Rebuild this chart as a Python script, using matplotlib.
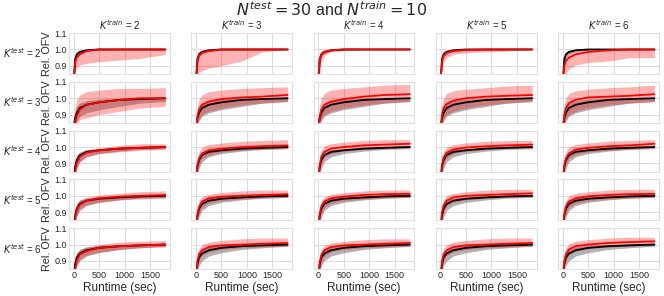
import matplotlib.pyplot as plt

# runtime grid (sec)
runtime = [0, 30, 60, 120, 250, 500, 900, 1300, 1800]

k_test = [2, 3, 4, 5, 6]
k_train = [2, 3, 4, 5, 6]

# baseline (black): one curve per K_test row
black_mean = [
    [0.80, 0.94, 0.970, 0.985, 0.995, 1.000, 1.000, 1.000, 1.000],
    [0.82, 0.88, 0.910, 0.940, 0.960, 0.975, 0.990, 0.995, 1.000],
    [0.80, 0.88, 0.920, 0.950, 0.970, 0.980, 0.990, 0.995, 1.000],
    [0.80, 0.88, 0.920, 0.950, 0.970, 0.982, 0.990, 0.996, 1.000],
    [0.80, 0.88, 0.920, 0.945, 0.965, 0.980, 0.990, 0.995, 1.000],
]
black_lo = [
    [0.78, 0.91, 0.955, 0.975, 0.990, 0.997, 1.000, 1.000, 1.000],
    [0.80, 0.84, 0.860, 0.890, 0.910, 0.930, 0.950, 0.970, 0.980],
    [0.78, 0.83, 0.870, 0.910, 0.940, 0.960, 0.975, 0.985, 0.990],
    [0.78, 0.83, 0.870, 0.910, 0.940, 0.960, 0.975, 0.985, 0.990],
    [0.78, 0.83, 0.870, 0.900, 0.930, 0.950, 0.970, 0.980, 0.990],
]
black_hi = [
    [0.83, 0.96, 0.985, 0.995, 1.000, 1.000, 1.000, 1.000, 1.000],
    [0.84, 0.92, 0.950, 0.970, 0.985, 0.995, 1.000, 1.000, 1.000],
    [0.83, 0.91, 0.950, 0.970, 0.985, 0.990, 1.000, 1.005, 1.010],
    [0.83, 0.92, 0.950, 0.975, 0.985, 0.995, 1.000, 1.005, 1.010],
    [0.83, 0.92, 0.950, 0.970, 0.985, 0.995, 1.000, 1.005, 1.010],
]

# learned (red): one curve per panel, rows = K_test, cols = K_train
red_mean = [
    [
        [0.80, 0.92, 0.950, 0.970, 0.990, 1.000, 1.000, 1.000, 1.000],
        [0.80, 0.93, 0.960, 0.980, 0.990, 1.000, 1.000, 1.000, 1.000],
        [0.80, 0.94, 0.970, 0.985, 0.995, 1.000, 1.000, 1.000, 1.000],
        [0.80, 0.93, 0.960, 0.980, 0.990, 0.997, 1.000, 1.000, 1.000],
        [0.80, 0.90, 0.930, 0.950, 0.970, 0.985, 0.995, 1.000, 1.000],
    ],
    [
        [0.80, 0.85, 0.890, 0.930, 0.960, 0.975, 0.990, 1.000, 1.000],
        [0.80, 0.89, 0.930, 0.960, 0.980, 0.995, 1.005, 1.010, 1.020],
        [0.80, 0.89, 0.930, 0.960, 0.980, 0.995, 1.010, 1.020, 1.025],
        [0.80, 0.90, 0.940, 0.965, 0.985, 1.000, 1.010, 1.015, 1.020],
        [0.80, 0.90, 0.940, 0.970, 0.990, 1.005, 1.010, 1.015, 1.025],
    ],
    [
        [0.78, 0.85, 0.900, 0.940, 0.965, 0.980, 0.990, 0.995, 1.000],
        [0.80, 0.89, 0.930, 0.960, 0.980, 0.990, 1.000, 1.005, 1.010],
        [0.80, 0.89, 0.940, 0.970, 0.990, 1.000, 1.010, 1.015, 1.020],
        [0.80, 0.89, 0.935, 0.965, 0.985, 0.997, 1.005, 1.010, 1.015],
        [0.80, 0.89, 0.930, 0.960, 0.985, 0.995, 1.005, 1.010, 1.020],
    ],
    [
        [0.80, 0.87, 0.910, 0.945, 0.970, 0.985, 0.995, 1.000, 1.005],
        [0.80, 0.89, 0.930, 0.965, 0.985, 0.995, 1.000, 1.005, 1.010],
        [0.80, 0.89, 0.935, 0.965, 0.985, 0.995, 1.005, 1.010, 1.012],
        [0.80, 0.90, 0.940, 0.970, 0.990, 1.000, 1.005, 1.010, 1.015],
        [0.80, 0.89, 0.935, 0.965, 0.985, 0.997, 1.005, 1.010, 1.012],
    ],
    [
        [0.78, 0.85, 0.900, 0.940, 0.960, 0.980, 0.990, 0.995, 1.000],
        [0.80, 0.90, 0.940, 0.965, 0.985, 0.995, 1.000, 1.005, 1.010],
        [0.80, 0.89, 0.935, 0.965, 0.985, 0.995, 1.000, 1.005, 1.010],
        [0.80, 0.90, 0.940, 0.965, 0.985, 0.995, 1.000, 1.005, 1.010],
        [0.80, 0.90, 0.940, 0.970, 0.990, 1.000, 1.010, 1.015, 1.020],
    ],
]
red_lo = [
    [
        [0.78, 0.87, 0.890, 0.905, 0.915, 0.925, 0.935, 0.945, 0.970],
        [0.78, 0.84, 0.860, 0.870, 0.885, 0.900, 0.930, 0.985, 1.000],
        [0.78, 0.84, 0.920, 0.965, 0.985, 0.995, 1.000, 1.000, 1.000],
        [0.78, 0.89, 0.925, 0.950, 0.970, 0.980, 0.985, 0.990, 1.000],
        [0.78, 0.82, 0.850, 0.880, 0.905, 0.920, 0.930, 0.950, 0.950],
    ],
    [
        [0.78, 0.80, 0.840, 0.870, 0.880, 0.900, 0.920, 0.940, 0.950],
        [0.78, 0.84, 0.870, 0.900, 0.920, 0.940, 0.960, 0.970, 0.980],
        [0.78, 0.84, 0.870, 0.900, 0.920, 0.940, 0.960, 0.970, 0.980],
        [0.78, 0.84, 0.870, 0.900, 0.920, 0.940, 0.960, 0.970, 0.980],
        [0.78, 0.84, 0.870, 0.900, 0.920, 0.940, 0.960, 0.970, 0.980],
    ],
    [
        [0.76, 0.82, 0.870, 0.910, 0.940, 0.960, 0.970, 0.980, 0.985],
        [0.78, 0.85, 0.890, 0.930, 0.950, 0.970, 0.980, 0.985, 0.990],
        [0.78, 0.85, 0.900, 0.940, 0.960, 0.975, 0.985, 0.990, 0.995],
        [0.78, 0.85, 0.900, 0.935, 0.960, 0.975, 0.985, 0.990, 0.990],
        [0.78, 0.85, 0.890, 0.930, 0.955, 0.970, 0.980, 0.985, 0.995],
    ],
    [
        [0.76, 0.83, 0.880, 0.920, 0.945, 0.960, 0.975, 0.980, 0.985],
        [0.78, 0.85, 0.890, 0.930, 0.955, 0.970, 0.980, 0.985, 0.990],
        [0.78, 0.85, 0.890, 0.930, 0.955, 0.970, 0.980, 0.985, 0.990],
        [0.78, 0.86, 0.900, 0.940, 0.960, 0.975, 0.985, 0.990, 0.995],
        [0.78, 0.85, 0.890, 0.930, 0.955, 0.970, 0.980, 0.985, 0.990],
    ],
    [
        [0.76, 0.82, 0.870, 0.910, 0.935, 0.955, 0.970, 0.980, 0.985],
        [0.78, 0.86, 0.900, 0.935, 0.955, 0.970, 0.980, 0.985, 0.990],
        [0.78, 0.85, 0.890, 0.930, 0.955, 0.970, 0.980, 0.985, 0.990],
        [0.78, 0.86, 0.900, 0.935, 0.955, 0.970, 0.980, 0.985, 0.990],
        [0.78, 0.86, 0.900, 0.940, 0.960, 0.975, 0.985, 0.990, 0.995],
    ],
]
red_hi = [
    [
        [0.82, 0.96, 0.985, 0.995, 1.000, 1.000, 1.000, 1.000, 1.000],
        [0.82, 0.97, 0.990, 0.998, 1.000, 1.000, 1.000, 1.000, 1.000],
        [0.82, 0.97, 0.990, 0.998, 1.000, 1.000, 1.000, 1.000, 1.000],
        [0.82, 0.97, 0.990, 0.998, 1.000, 1.000, 1.000, 1.000, 1.000],
        [0.82, 0.96, 0.980, 0.990, 0.997, 1.000, 1.000, 1.000, 1.000],
    ],
    [
        [0.85, 0.95, 0.990, 1.020, 1.040, 1.050, 1.060, 1.060, 1.065],
        [0.85, 0.95, 0.990, 1.020, 1.040, 1.050, 1.060, 1.065, 1.070],
        [0.85, 0.96, 1.000, 1.030, 1.050, 1.060, 1.070, 1.080, 1.085],
        [0.85, 0.96, 1.000, 1.030, 1.045, 1.055, 1.065, 1.075, 1.080],
        [0.85, 0.96, 1.000, 1.030, 1.045, 1.055, 1.065, 1.070, 1.080],
    ],
    [
        [0.82, 0.89, 0.930, 0.960, 0.980, 0.995, 1.010, 1.020, 1.020],
        [0.83, 0.93, 0.970, 1.000, 1.015, 1.025, 1.035, 1.040, 1.045],
        [0.83, 0.94, 0.980, 1.010, 1.020, 1.030, 1.040, 1.045, 1.045],
        [0.83, 0.93, 0.975, 1.000, 1.015, 1.025, 1.035, 1.040, 1.040],
        [0.83, 0.93, 0.970, 1.000, 1.015, 1.025, 1.035, 1.040, 1.045],
    ],
    [
        [0.83, 0.91, 0.950, 0.975, 0.990, 1.005, 1.015, 1.025, 1.030],
        [0.83, 0.93, 0.970, 0.995, 1.010, 1.020, 1.030, 1.035, 1.035],
        [0.83, 0.93, 0.970, 0.995, 1.010, 1.020, 1.030, 1.035, 1.035],
        [0.83, 0.94, 0.975, 1.000, 1.015, 1.025, 1.035, 1.040, 1.040],
        [0.83, 0.93, 0.970, 1.000, 1.015, 1.025, 1.035, 1.040, 1.040],
    ],
    [
        [0.82, 0.90, 0.940, 0.970, 0.985, 1.000, 1.015, 1.020, 1.025],
        [0.83, 0.94, 0.975, 1.000, 1.015, 1.025, 1.035, 1.040, 1.040],
        [0.83, 0.93, 0.970, 0.995, 1.010, 1.020, 1.030, 1.035, 1.035],
        [0.83, 0.94, 0.975, 1.000, 1.015, 1.025, 1.035, 1.040, 1.040],
        [0.83, 0.94, 0.980, 1.005, 1.020, 1.030, 1.040, 1.045, 1.045],
    ],
]

plt.style.use("seaborn-v0_8-whitegrid")
plt.rcParams["font.family"] = ["Liberation Sans", "DejaVu Sans"]
plt.rcParams["axes.edgecolor"] = "#e0e0e0"
plt.rcParams["grid.color"] = "#dddddd"

fig, axes = plt.subplots(5, 5, figsize=(6.64, 2.96), dpi=100, sharex=True, sharey=True)
fig.subplots_adjust(left=0.104, right=0.9925, top=0.888, bottom=0.091,
                    wspace=0.213, hspace=0.195)

for i in range(5):
    for j in range(5):
        ax = axes[i][j]
        ax.fill_between(runtime, black_lo[i], black_hi[i], color="gray", alpha=0.6, lw=0)
        ax.fill_between(runtime, red_lo[i][j], red_hi[i][j], color="red", alpha=0.3, lw=0)
        ax.plot(runtime, black_mean[i], color="black", lw=1.3)
        ax.plot(runtime, red_mean[i][j], color="red", lw=1.3)
        ax.set_ylim(0.85, 1.1)
        ax.set_xlim(-90, 1890)
        ax.set_yticks([0.9, 1.0, 1.1])
        ax.set_xticks([0, 500, 1000, 1500])
        ax.tick_params(labelsize=6.5, pad=1.5, length=0)
        for s in ax.spines.values():
            s.set_linewidth(0.8)
        if i == 0:
            ax.set_title(f"$K^{{train}}$ = {k_train[j]}", fontsize=7, pad=2)
        if i == 4:
            ax.set_xlabel("Runtime (sec)", fontsize=8.5, labelpad=1)
        if j == 0:
            ax.set_ylabel("Rel. OFV", fontsize=7.8, labelpad=2)
            pos = ax.get_position()
            fig.text(0.004, (pos.y0 + pos.y1) / 2, f"$K^{{test}}$ = {k_test[i]}",
                     fontsize=7, ha="left", va="center")

fig.suptitle("$N^{test} = 30$ and $N^{train} = 10$", fontsize=11.5, y=1.0)

fig.savefig("out.png", dpi=100)
